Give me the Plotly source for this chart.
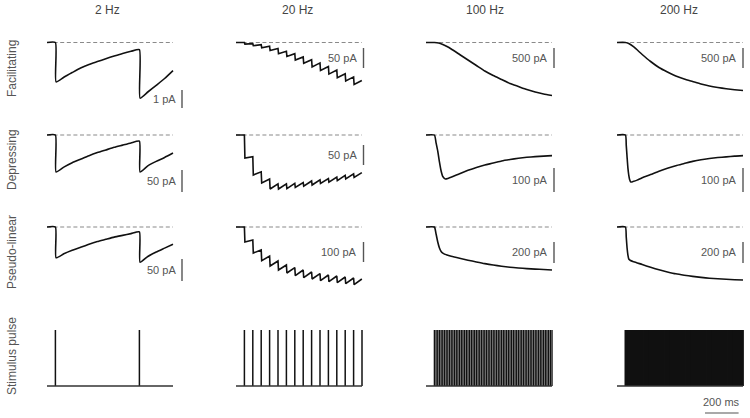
import plotly.graph_objects as go

# ---------------- data ----------------
COLUMN_TITLES = ["2 Hz", "20 Hz", "100 Hz", "200 Hz"]
ROW_LABELS = ["Facilitating", "Depressing", "Pseudo-linear", "Stimulus pulse"]
STIM_FREQ_HZ = [2, 20, 100, 200]
STIM_START_MS = 50
STIM_END_MS = 750
WINDOW_MS = 750

# scale bar values (pA) per row (synapse type) and column (frequency)
SCALE_BAR_PA = [[1, 50, 500, 500],
                [50, 50, 100, 100],
                [50, 100, 200, 200]]
SCALE_BAR_LABELS = [["1 pA", "50 pA", "500 pA", "500 pA"],
                    ["50 pA", "50 pA", "100 pA", "100 pA"],
                    ["50 pA", "100 pA", "200 pA", "200 pA"]]
TIME_BAR_MS = 200
TIME_BAR_LABEL = "200 ms"

# 2 Hz responses (ms, pA)
T_2HZ = [0, 50, 54, 100, 150, 200, 250, 300, 350, 400, 450, 500, 550, 554, 600, 650, 700, 750]
FAC_2HZ = [0, 0, -2.19, -1.93, -1.67, -1.42, -1.22, -1.06, -0.90, -0.75, -0.61, -0.49, -0.40,
           -3.09, -2.75, -2.38, -2.00, -1.56]
DEP_2HZ = [0, 0, -84, -73, -63, -55, -47, -40, -34, -28, -23, -18, -14, -84, -70, -60, -51, -41]
PSL_2HZ = [0, 0, -70, -61, -53, -46, -39, -33, -28, -23, -19, -15, -11, -80, -67, -57, -48, -39]

# 20 Hz responses: current just before each pulse and peak after each pulse (pA)
FAC_20HZ_PRE = [0, -3, -5.5, -9, -15, -22, -28, -36, -43, -51, -60, -69, -78, -86, -95]
FAC_20HZ_PEAK = [-4, -8, -13, -20, -28, -35, -44, -52, -61, -70, -79, -88, -96, -105]
DEP_20HZ_PRE = [0, -54, -92, -110, -122, -122, -121, -119, -115, -112, -109, -105, -101, -97, -94]
DEP_20HZ_PEAK = [-57.5, -100, -120, -135, -135, -134, -131, -128, -125, -121, -118, -114, -110, -106]
PSL_20HZ_PRE = [0, -65, -115, -145, -170, -190, -203, -215, -225, -233, -240, -245, -250, -255, -260]
PSL_20HZ_PEAK = [-75, -130, -168, -195, -215, -230, -243, -253, -260, -268, -273, -278, -283, -288]

# 100 Hz / 200 Hz responses (ms, pA)
T_FAC_100HZ = [0, 50, 75, 100, 125, 150, 200, 250, 300, 350, 400, 450, 500, 550, 600, 650, 700, 750]
FAC_100HZ = [0, 0, -12, -50, -100, -162, -300, -438, -575, -712, -825, -925, -1025, -1100,
             -1175, -1238, -1288, -1325]
T_FAC_200HZ = [0, 50, 70, 100, 150, 200, 250, 300, 350, 400, 450, 500, 550, 600, 650, 700, 750]
FAC_200HZ = [0, 0, -25, -112, -300, -475, -625, -738, -838, -912, -975, -1038, -1088, -1125,
             -1155, -1180, -1200]
T_DEP_100HZ = [0, 50, 60, 70, 80, 90, 100, 115, 130, 160, 200, 250, 300, 350, 400, 450, 500,
               550, 600, 650, 700, 750]
DEP_100HZ = [0, 0, -33, -67, -112, -150, -173, -183, -181, -173, -161, -147, -135, -125, -117,
             -108, -102, -97, -93, -90, -88, -86]
T_DEP_200HZ = [0, 50, 55, 60, 65, 70, 75, 82, 95, 120, 150, 200, 250, 300, 350, 400, 450, 500,
               550, 600, 650, 700, 750]
DEP_200HZ = [0, 0, -42, -92, -138, -167, -185, -196, -194, -188, -178, -165, -151, -139, -128,
             -119, -110, -103, -98, -94, -91, -88, -86]
T_PSL_100HZ = [0, 50, 60, 70, 80, 90, 100, 125, 150, 200, 250, 300, 350, 400, 450, 500, 550,
               600, 650, 700, 750]
PSL_100HZ = [0, 0, -67, -143, -200, -233, -248, -267, -279, -298, -316, -333, -349, -362, -373,
             -383, -390, -396, -401, -405, -410]
T_PSL_200HZ = [0, 50, 55, 60, 65, 70, 80, 100, 150, 200, 250, 300, 350, 400, 450, 500, 550, 600,
               650, 700, 750]
PSL_200HZ = [0, 0, -95, -200, -267, -305, -319, -331, -357, -384, -408, -428, -446, -459, -470,
             -480, -488, -493, -498, -502, -505]

# ---------------- layout / style ----------------
FIG_W, FIG_H = 750, 418
PXMS = 0.168                      # px per ms
COL_X0 = [47, 236, 426, 617]      # px position of t = 0 for each column
ROW_BAND = [(28, 118), (120, 208), (210, 300), (305, 418)]
ROW_BASE = [42.5, 135, 227, 386]  # px of the zero line in each row
SCALE_BAR_PX = [[18, 20, 20, 20], [22, 20, 24, 24], [22, 20, 21, 21]]
BAR_X_PX = [182, 363.5, 554, 743]
BAR_BOTTOM_PX = [[108, 68, 68, 68], [192, 165, 192, 192], [281, 262, 263, 263]]
STIM_PX_PER_UNIT = 56
STIM_LINE_W = [1.5, 1.5, 1.4, 1.8]
FONT = "Liberation Sans, Arial, sans-serif"
TEXT_COLOR = "#555555"
TRACE_COLOR = "#111111"


def sawtooth(pre, peak):
    xs, ys = [0], [0]
    for k, pk in enumerate(peak):
        t = STIM_START_MS + 50 * k
        xs += [t, t + 3]
        ys += [pre[k], pk]
    xs.append(STIM_START_MS + 50 * len(peak) - 1)
    ys.append(pre[len(peak)])
    return xs, ys


TRACES = [
    [(T_2HZ, FAC_2HZ), sawtooth(FAC_20HZ_PRE, FAC_20HZ_PEAK), (T_FAC_100HZ, FAC_100HZ), (T_FAC_200HZ, FAC_200HZ)],
    [(T_2HZ, DEP_2HZ), sawtooth(DEP_20HZ_PRE, DEP_20HZ_PEAK), (T_DEP_100HZ, DEP_100HZ), (T_DEP_200HZ, DEP_200HZ)],
    [(T_2HZ, PSL_2HZ), sawtooth(PSL_20HZ_PRE, PSL_20HZ_PEAK), (T_PSL_100HZ, PSL_100HZ), (T_PSL_200HZ, PSL_200HZ)],
]
SMOOTH = [True, False, True, True]

fig = go.Figure()
layout = {}
annotations = []


def sfx(n):
    return "" if n == 1 else str(n)


for r in range(4):
    for c in range(4):
        n = r * 4 + c + 1
        x0 = COL_X0[c]
        x1 = min(x0 + 138, FIG_W)
        top, bot = ROW_BAND[r]
        base = ROW_BASE[r]
        s = SCALE_BAR_PX[r][c] / SCALE_BAR_PA[r][c] if r < 3 else STIM_PX_PER_UNIT
        layout["xaxis" + sfx(n)] = dict(domain=[x0 / FIG_W, x1 / FIG_W], range=[0, (x1 - x0) / PXMS],
                                        visible=False, anchor="y" + sfx(n), fixedrange=True)
        layout["yaxis" + sfx(n)] = dict(domain=[1 - bot / FIG_H, 1 - top / FIG_H],
                                        range=[-(bot - base) / s, (base - top) / s],
                                        visible=False, anchor="x" + sfx(n), fixedrange=True)
        xa, ya = "x" + sfx(n), "y" + sfx(n)
        if r < 3:
            # dashed zero line
            fig.add_trace(go.Scatter(x=[0, WINDOW_MS], y=[0, 0], mode="lines", xaxis=xa, yaxis=ya,
                                     line=dict(color="#8a8a8a", width=1.2, dash="4px,2.6px"),
                                     hoverinfo="skip", showlegend=False))
            tx, ty = TRACES[r][c]
            line = dict(color=TRACE_COLOR, width=1.6)
            if SMOOTH[c]:
                line.update(shape="spline", smoothing=0.5)
            fig.add_trace(go.Scatter(x=tx, y=ty, mode="lines", xaxis=xa, yaxis=ya, line=line,
                                     showlegend=False))
            # scale bar
            bx = (BAR_X_PX[c] - x0) / PXMS
            b0 = -(BAR_BOTTOM_PX[r][c] - base) / s
            b1 = b0 + SCALE_BAR_PA[r][c]
            fig.add_trace(go.Scatter(x=[bx, bx], y=[b0, b1], mode="lines", xaxis=xa, yaxis=ya,
                                     line=dict(color="#555555", width=1.4), hoverinfo="skip",
                                     showlegend=False))
            annotations.append(dict(x=bx - 4.5 / PXMS, y=(b0 + b1) / 2, xref=xa, yref=ya,
                                    text=SCALE_BAR_LABELS[r][c], showarrow=False,
                                    xanchor="right", yanchor="middle",
                                    font=dict(family=FONT, size=11, color=TEXT_COLOR)))
        else:
            f = STIM_FREQ_HZ[c]
            period = 1000.0 / f
            px, py = [], []
            k = 0
            while STIM_START_MS + k * period <= STIM_END_MS + 1e-6:
                t = STIM_START_MS + k * period
                px += [t, t, None]
                py += [0, 1, None]
                k += 1
            fig.add_trace(go.Scatter(x=px, y=py, mode="lines", xaxis=xa, yaxis=ya,
                                     line=dict(color=TRACE_COLOR, width=STIM_LINE_W[c]),
                                     hoverinfo="skip", showlegend=False))
            fig.add_trace(go.Scatter(x=[0, WINDOW_MS], y=[0, 0], mode="lines", xaxis=xa, yaxis=ya,
                                     line=dict(color="#333333", width=1.5), hoverinfo="skip",
                                     showlegend=False))
            if c == 3:
                tb0 = (705 - x0) / PXMS
                yb = -(413 - base) / s
                fig.add_trace(go.Scatter(x=[tb0, tb0 + TIME_BAR_MS], y=[yb, yb], mode="lines",
                                         xaxis=xa, yaxis=ya, line=dict(color="#555555", width=1.2),
                                         hoverinfo="skip", showlegend=False))
                annotations.append(dict(x=tb0 + TIME_BAR_MS / 2, y=-(402 - base) / s, xref=xa, yref=ya,
                                        text=TIME_BAR_LABEL, showarrow=False, xanchor="center",
                                        yanchor="middle",
                                        font=dict(family=FONT, size=11, color=TEXT_COLOR)))

TITLE_X_PX = [107, 297, 485, 679]
for c, title in enumerate(COLUMN_TITLES):
    annotations.append(dict(x=TITLE_X_PX[c] / FIG_W, y=1 - 10 / FIG_H, xref="paper", yref="paper",
                            text=title, showarrow=False, xanchor="center", yanchor="middle",
                            font=dict(family=FONT, size=12, color="#444444")))

LABEL_Y_PX = [69, 160, 252, 356]
for r, lab in enumerate(ROW_LABELS):
    annotations.append(dict(x=12 / FIG_W, y=1 - LABEL_Y_PX[r] / FIG_H, xref="paper", yref="paper",
                            text=lab, showarrow=False, textangle=-90, xanchor="center",
                            yanchor="middle", font=dict(family=FONT, size=12, color=TEXT_COLOR)))

fig.update_layout(width=FIG_W, height=FIG_H, margin=dict(l=0, r=0, t=0, b=0),
                  paper_bgcolor="white", plot_bgcolor="rgba(0,0,0,0)", showlegend=False,
                  annotations=annotations, **layout)

# remove the browser's default 8px page margin so the figure sits at (0, 0)
fig.write_html("out.html", config={"displayModeBar": False},
               post_script="document.body.style.margin='0';document.body.style.overflow='hidden';")
